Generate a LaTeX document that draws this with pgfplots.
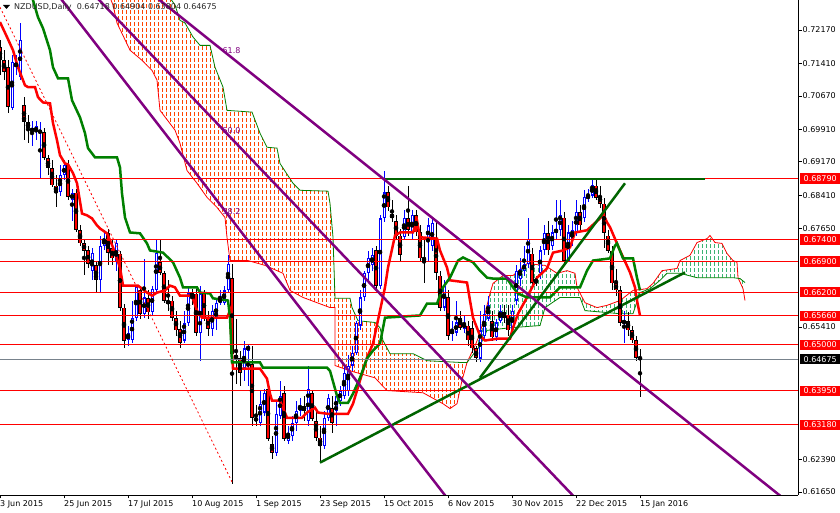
\documentclass[border=0pt]{standalone}
\usepackage{fontspec}
\setmainfont{DejaVu Sans}
\usepackage{pgfplots}
\pgfplotsset{compat=1.18}
\usepackage{pgfplotstable}
\usepgfplotslibrary{fillbetween}

\definecolor{bull}{RGB}{0,0,255}
\definecolor{bear}{RGB}{255,0,0}
\definecolor{kij}{RGB}{0,128,0}
\definecolor{trend}{RGB}{0,100,0}
\definecolor{fib}{RGB}{128,0,128}
\definecolor{kumoR}{RGB}{255,69,0}
\definecolor{kumoG}{RGB}{60,179,113}
\definecolor{cur}{RGB}{120,130,140}

\pgfplotstableread{
i o h l c
0 0.7178 0.7194 0.7114 0.7148
1 0.7148 0.7171 0.7103 0.7121
2 0.7132 0.7148 0.7027 0.7041
3 0.7039 0.7160 0.7034 0.7144
4 0.7132 0.7160 0.7114 0.7144
5 0.7109 0.7233 0.7103 0.7194
6 0.7046 0.7064 0.6966 0.7007
7 0.7007 0.7023 0.6959 0.6993
8 0.6984 0.7011 0.6954 0.6995
9 0.6984 0.7011 0.6966 0.6998
10 0.6982 0.7007 0.6879 0.6989
11 0.6984 0.6993 0.6920 0.6925
12 0.6925 0.6932 0.6886 0.6902
13 0.6902 0.6920 0.6859 0.6863
14 0.6863 0.6886 0.6813 0.6847
15 0.6847 0.6909 0.6840 0.6886
16 0.6886 0.6920 0.6875 0.6909
17 0.6909 0.6920 0.6829 0.6836
18 0.6829 0.6856 0.6783 0.6847
19 0.6847 0.6856 0.6756 0.6761
20 0.6761 0.6772 0.6726 0.6731
21 0.6731 0.6738 0.6658 0.6715
22 0.6715 0.6726 0.6674 0.6685
23 0.6669 0.6720 0.6647 0.6710
24 0.6681 0.6692 0.6619 0.6647
25 0.6647 0.6749 0.6619 0.6726
26 0.6726 0.6761 0.6715 0.6742
27 0.6754 0.6765 0.6681 0.6710
28 0.6720 0.6738 0.6681 0.6697
29 0.6688 0.6742 0.6669 0.6733
30 0.6708 0.6715 0.6578 0.6585
31 0.6585 0.6594 0.6494 0.6510
32 0.6510 0.6544 0.6498 0.6526
33 0.6510 0.6601 0.6505 0.6562
34 0.6562 0.6635 0.6555 0.6633
35 0.6624 0.6635 0.6560 0.6571
36 0.6571 0.6695 0.6562 0.6608
37 0.6606 0.6624 0.6560 0.6574
38 0.6574 0.6635 0.6567 0.6628
39 0.6624 0.6738 0.6619 0.6710
40 0.6688 0.6738 0.6658 0.6663
41 0.6663 0.6669 0.6596 0.6601
42 0.6601 0.6647 0.6578 0.6594
43 0.6601 0.6612 0.6555 0.6562
44 0.6562 0.6578 0.6521 0.6533
45 0.6537 0.6555 0.6494 0.6505
46 0.6510 0.6578 0.6505 0.6549
47 0.6549 0.6635 0.6544 0.6617
48 0.6617 0.6628 0.6590 0.6610
49 0.6617 0.6628 0.6521 0.6528
50 0.6528 0.6635 0.6464 0.6617
51 0.6617 0.6624 0.6555 0.6562
52 0.6562 0.6578 0.6521 0.6537
53 0.6537 0.6590 0.6521 0.6578
54 0.6560 0.6606 0.6533 0.6596
55 0.6596 0.6624 0.6590 0.6606
56 0.6596 0.6635 0.6590 0.6624
57 0.6624 0.6704 0.6619 0.6685
58 0.6653 0.6685 0.6184 0.6480
59 0.6476 0.6560 0.6412 0.6469
60 0.6471 0.6487 0.6407 0.6437
61 0.6448 0.6510 0.6419 0.6492
62 0.6487 0.6503 0.6407 0.6498
63 0.6457 0.6498 0.6316 0.6334
64 0.6334 0.6362 0.6316 0.6327
65 0.6323 0.6396 0.6316 0.6366
66 0.6346 0.6400 0.6339 0.6391
67 0.6400 0.6407 0.6282 0.6286
68 0.6275 0.6293 0.6241 0.6254
69 0.6254 0.6373 0.6248 0.6343
70 0.6339 0.6419 0.6332 0.6384
71 0.6391 0.6407 0.6282 0.6286
72 0.6282 0.6316 0.6275 0.6300
73 0.6293 0.6339 0.6282 0.6323
74 0.6323 0.6373 0.6305 0.6350
75 0.6350 0.6378 0.6339 0.6362
76 0.6362 0.6384 0.6327 0.6350
77 0.6327 0.6453 0.6316 0.6400
78 0.6391 0.6396 0.6327 0.6332
79 0.6327 0.6350 0.6282 0.6289
80 0.6289 0.6316 0.6232 0.6270
81 0.6270 0.6350 0.6264 0.6334
82 0.6334 0.6389 0.6327 0.6380
83 0.6357 0.6384 0.6300 0.6323
84 0.6350 0.6396 0.6316 0.6384
85 0.6373 0.6407 0.6362 0.6396
86 0.6384 0.6453 0.6378 0.6437
87 0.6396 0.6476 0.6384 0.6453
88 0.6453 0.6498 0.6441 0.6482
89 0.6482 0.6555 0.6476 0.6549
90 0.6544 0.6624 0.6533 0.6608
91 0.6608 0.6669 0.6601 0.6663
92 0.6663 0.6715 0.6647 0.6697
93 0.6681 0.6720 0.6669 0.6704
94 0.6715 0.6726 0.6624 0.6635
95 0.6635 0.6795 0.6628 0.6788
96 0.6788 0.6897 0.6779 0.6847
97 0.6847 0.6863 0.6806 0.6813
98 0.6799 0.6829 0.6779 0.6788
99 0.6783 0.6795 0.6738 0.6749
100 0.6749 0.6765 0.6692 0.6704
101 0.6745 0.6806 0.6738 0.6790
102 0.6788 0.6863 0.6749 0.6761
103 0.6756 0.6806 0.6738 0.6795
104 0.6795 0.6806 0.6749 0.6756
105 0.6756 0.6772 0.6688 0.6697
106 0.6699 0.6738 0.6642 0.6692
107 0.6738 0.6788 0.6688 0.6772
108 0.6726 0.6788 0.6715 0.6777
109 0.6742 0.6783 0.6647 0.6663
110 0.6658 0.6669 0.6578 0.6585
111 0.6585 0.6647 0.6578 0.6635
112 0.6608 0.6624 0.6510 0.6521
113 0.6526 0.6555 0.6510 0.6533
114 0.6528 0.6601 0.6521 0.6551
115 0.6562 0.6578 0.6533 0.6539
116 0.6537 0.6567 0.6528 0.6551
117 0.6544 0.6555 0.6498 0.6510
118 0.6539 0.6555 0.6482 0.6492
119 0.6492 0.6498 0.6460 0.6471
120 0.6469 0.6578 0.6460 0.6533
121 0.6521 0.6590 0.6510 0.6571
122 0.6560 0.6612 0.6555 0.6590
123 0.6555 0.6578 0.6510 0.6517
124 0.6517 0.6560 0.6510 0.6551
125 0.6555 0.6590 0.6551 0.6578
126 0.6574 0.6590 0.6551 0.6562
127 0.6567 0.6590 0.6521 0.6533
128 0.6533 0.6590 0.6528 0.6578
129 0.6601 0.6681 0.6590 0.6669
130 0.6651 0.6697 0.6635 0.6674
131 0.6669 0.6726 0.6658 0.6685
132 0.6685 0.6788 0.6674 0.6742
133 0.6708 0.6720 0.6635 0.6642
134 0.6647 0.6658 0.6635 0.6642
135 0.6663 0.6726 0.6651 0.6715
136 0.6715 0.6772 0.6704 0.6754
137 0.6754 0.6783 0.6704 0.6715
138 0.6726 0.6772 0.6715 0.6756
139 0.6754 0.6829 0.6742 0.6765
140 0.6761 0.6829 0.6749 0.6795
141 0.6790 0.6802 0.6681 0.6692
142 0.6692 0.6772 0.6688 0.6756
143 0.6738 0.6783 0.6726 0.6761
144 0.6756 0.6829 0.6749 0.6802
145 0.6802 0.6818 0.6761 0.6772
146 0.6788 0.6852 0.6779 0.6836
147 0.6834 0.6856 0.6825 0.6840
148 0.6840 0.6881 0.6834 0.6863
149 0.6863 0.6875 0.6829 0.6834
150 0.6840 0.6863 0.6811 0.6822
151 0.6822 0.6834 0.6720 0.6754
152 0.6749 0.6761 0.6710 0.6715
153 0.6715 0.6726 0.6624 0.6640
154 0.6640 0.6674 0.6612 0.6624
155 0.6624 0.6635 0.6544 0.6549
156 0.6549 0.6578 0.6505 0.6555
157 0.6555 0.6574 0.6521 0.6533
158 0.6533 0.6544 0.6505 0.6510
159 0.6510 0.6521 0.6464 0.6471
160 0.64718 0.64904 0.63804 0.64675
}\candles

\begin{document}
\begin{tikzpicture}[font=\fontsize{8}{9.6}\selectfont]
\begin{axis}[
  at={(0pt,0pt)}, anchor=south west,
  scale only axis, width=798pt, height=495pt,
  xmin=0, xmax=199.5, ymin=0.61582, ymax=0.72853,
  axis x line=bottom, axis y line=right,
  axis line style={-, black, line width=0.8pt},
  x axis line style={-}, y axis line style={-},
  tick align=outside, major tick length=3.5pt,
  tick style={black, line width=0.6pt},
  scaled y ticks=false, scaled x ticks=false,
  tick label style={font=\fontsize{8}{9.6}\selectfont, black},
  xtick={0,16,32,48,64,80,96,112,128,144,160},
  xticklabels={3 Jun 2015,25 Jun 2015,17 Jul 2015,10 Aug 2015,1 Sep 2015,23 Sep 2015,15 Oct 2015,6 Nov 2015,30 Nov 2015,22 Dec 2015,15 Jan 2016},
  xticklabel style={anchor=north west, inner sep=0pt, yshift=-2pt},
  ytick={0.6165,0.6239,0.6541,0.6765,0.6841,0.6917,0.6991,0.7067,0.7141,0.7217},
  yticklabels={0.61650,0.62390,0.65410,0.67650,0.68410,0.69170,0.69910,0.70670,0.71410,0.72170},
  yticklabel style={anchor=west, inner sep=0pt, xshift=1pt},
]
% --- Ichimoku cloud boundaries (Senkou A / Senkou B)
\addplot[name path=SA, draw=none, forget plot] coordinates {
(26.25,0.7319)(28.25,0.7274)(29.25,0.7233)(32.5,0.7171)(35.5,0.7148)(38,0.7125)(39.25,0.7103)(40,0.7034)(43.75,0.6989)(45,0.6959)(46.75,0.6897)(49.25,0.6868)(51.75,0.6836)(54.25,0.6813)(56.25,0.6790)(56.75,0.6745)(57.5,0.6692)(62,0.6692)(66.25,0.6681)(70.75,0.6663)(72.5,0.6624)(75.75,0.6608)(82.5,0.6585)(83.75,0.6585)(83.76,0.6453)(87.5,0.6441)(93.75,0.6425)(96.75,0.6396)(105.75,0.6391)(110.75,0.6366)(112.5,0.6355)(114.25,0.6366)(115.5,0.6419)(116.75,0.6460)(118.75,0.6498)(120,0.6526)(122.5,0.6617)(123.25,0.6640)(125.75,0.6658)(128.25,0.6658)(131.75,0.6685)(136.25,0.6681)(139.25,0.6663)(141.75,0.6669)(143.75,0.6663)(144.25,0.6631)(146.25,0.6596)(149.25,0.6585)(151.75,0.6590)(155,0.6601)(158.25,0.6624)(161.75,0.6628)(163.25,0.6640)(165.5,0.6669)(169.25,0.6674)(170,0.6692)(172.5,0.6704)(174.25,0.6733)(176.75,0.6742)(177.5,0.6749)(178.75,0.6733)(180.5,0.6731)(181.75,0.6708)(183.25,0.6692)(184.25,0.6688)(184.5,0.6653)(185.75,0.6628)(186.25,0.6601)};
\addplot[name path=SB, draw=none, forget plot] coordinates {
(26.25,0.7422)(37.5,0.7353)(43.75,0.7274)(45,0.7239)(46.25,0.7233)(48.25,0.7201)(50,0.7182)(52.5,0.7182)(53.75,0.7132)(55.75,0.7087)(56.75,0.7034)(63,0.7030)(65,0.6982)(66.75,0.6950)(69.25,0.6948)(70,0.6913)(73.25,0.6868)(75,0.6852)(82,0.6850)(82.5,0.6822)(83.25,0.6745)(83.75,0.6606)(87.5,0.6606)(88,0.6585)(89.5,0.6555)(93.75,0.6551)(95,0.6539)(95.75,0.6510)(97.5,0.6480)(103.25,0.6480)(106.75,0.6464)(115,0.6460)(116.75,0.6460)(120,0.6498)(121.75,0.6533)(127.5,0.6539)(135,0.6544)(136.25,0.6585)(140,0.6608)(145,0.6608)(146.25,0.6578)(155,0.6571)(158.25,0.6571)(160,0.6619)(162.5,0.6628)(165,0.6647)(166.75,0.6663)(170,0.6663)(174.25,0.6653)(183.25,0.6653)(185,0.6651)(186.25,0.6642)};
\addplot[fill=kumoR, draw=none, forget plot] fill between[of=SA and SB, soft clip={domain=26:116.75}];
\addplot[fill=kumoG, draw=none, forget plot] fill between[of=SA and SB, soft clip={domain=116.75:186.25}];
% white grid that leaves the cloud as short vertical dashes
\pgfplotsinvokeforeach{0,...,200}{\draw[white, line width=3pt] (axis cs:#1,0.61582) -- (axis cs:#1,0.72853);}
\pgfplotsinvokeforeach{0,...,83}{\draw[white, line width=2pt] (rel axis cs:0,#1*0.0121212) -- (rel axis cs:1,#1*0.0121212);}
\addplot[bear, line width=0.8pt, forget plot] coordinates {
(26.25,0.7319)(28.25,0.7274)(29.25,0.7233)(32.5,0.7171)(35.5,0.7148)(38,0.7125)(39.25,0.7103)(40,0.7034)(43.75,0.6989)(45,0.6959)(46.75,0.6897)(49.25,0.6868)(51.75,0.6836)(54.25,0.6813)(56.25,0.6790)(56.75,0.6745)(57.5,0.6692)(62,0.6692)(66.25,0.6681)(70.75,0.6663)(72.5,0.6624)(75.75,0.6608)(82.5,0.6585)(83.75,0.6585)(83.76,0.6453)(87.5,0.6441)(93.75,0.6425)(96.75,0.6396)(105.75,0.6391)(110.75,0.6366)(112.5,0.6355)(114.25,0.6366)(115.5,0.6419)(116.75,0.6460)(118.75,0.6498)(120,0.6526)(122.5,0.6617)(123.25,0.6640)(125.75,0.6658)(128.25,0.6658)(131.75,0.6685)(136.25,0.6681)(139.25,0.6663)(141.75,0.6669)(143.75,0.6663)(144.25,0.6631)(146.25,0.6596)(149.25,0.6585)(151.75,0.6590)(155,0.6601)(158.25,0.6624)(161.75,0.6628)(163.25,0.6640)(165.5,0.6669)(169.25,0.6674)(170,0.6692)(172.5,0.6704)(174.25,0.6733)(176.75,0.6742)(177.5,0.6749)(178.75,0.6733)(180.5,0.6731)(181.75,0.6708)(183.25,0.6692)(184.25,0.6688)(184.5,0.6653)(185.75,0.6628)(186.25,0.6601)};
\addplot[kij, line width=0.8pt, forget plot] coordinates {
(26.25,0.7422)(37.5,0.7353)(43.75,0.7274)(45,0.7239)(46.25,0.7233)(48.25,0.7201)(50,0.7182)(52.5,0.7182)(53.75,0.7132)(55.75,0.7087)(56.75,0.7034)(63,0.7030)(65,0.6982)(66.75,0.6950)(69.25,0.6948)(70,0.6913)(73.25,0.6868)(75,0.6852)(82,0.6850)(82.5,0.6822)(83.25,0.6745)(83.75,0.6606)(87.5,0.6606)(88,0.6585)(89.5,0.6555)(93.75,0.6551)(95,0.6539)(95.75,0.6510)(97.5,0.6480)(103.25,0.6480)(106.75,0.6464)(115,0.6460)(116.75,0.6460)(120,0.6498)(121.75,0.6533)(127.5,0.6539)(135,0.6544)(136.25,0.6585)(140,0.6608)(145,0.6608)(146.25,0.6578)(155,0.6571)(158.25,0.6571)(160,0.6619)(162.5,0.6628)(165,0.6647)(166.75,0.6663)(170,0.6663)(174.25,0.6653)(183.25,0.6653)(185,0.6651)(186.25,0.6642)};

% --- candles: wicks
\addplot[only marks, mark=none, forget plot, restrict x to domain=-5:300,
  error bars/.cd, y dir=both, y explicit, error mark=none,
  error bar style={draw=bull, line width=1pt}]
  table[x expr={\thisrow{c}>\thisrow{o} ? \thisrow{i} : -50},
        y expr={(\thisrow{h}+\thisrow{l})/2},
        y error expr={(\thisrow{h}-\thisrow{l})/2}] {\candles};
\addplot[only marks, mark=none, forget plot, restrict x to domain=-5:300,
  error bars/.cd, y dir=both, y explicit, error mark=none,
  error bar style={draw=black, line width=1pt}]
  table[x expr={\thisrow{c}>\thisrow{o} ? -50 : \thisrow{i}},
        y expr={(\thisrow{h}+\thisrow{l})/2},
        y error expr={(\thisrow{h}-\thisrow{l})/2}] {\candles};
% bodies: bullish (blue outline, white inside)
\addplot[only marks, mark=none, forget plot, restrict x to domain=-5:300,
  error bars/.cd, y dir=both, y explicit, error mark=none,
  error bar style={draw=bull, line width=3pt}]
  table[x expr={\thisrow{c}>\thisrow{o} ? \thisrow{i} : -50},
        y expr={(\thisrow{o}+\thisrow{c})/2},
        y error expr={max(abs(\thisrow{c}-\thisrow{o})/2,0.00012)}] {\candles};
\addplot[only marks, mark=none, forget plot, restrict x to domain=-5:300,
  error bars/.cd, y dir=both, y explicit, error mark=none,
  error bar style={draw=white, line width=1pt}]
  table[x expr={\thisrow{c}>\thisrow{o} ? \thisrow{i} : -50},
        y expr={(\thisrow{o}+\thisrow{c})/2},
        y error expr={max(abs(\thisrow{c}-\thisrow{o})/2-0.00025,0)}] {\candles};
% bodies: bearish (black outline, red inside)
\addplot[only marks, mark=none, forget plot, restrict x to domain=-5:300,
  error bars/.cd, y dir=both, y explicit, error mark=none,
  error bar style={draw=black, line width=3.2pt}]
  table[x expr={\thisrow{c}>\thisrow{o} ? -50 : \thisrow{i}},
        y expr={(\thisrow{o}+\thisrow{c})/2},
        y error expr={max(abs(\thisrow{c}-\thisrow{o})/2,0.00012)}] {\candles};
\addplot[only marks, mark=none, forget plot, restrict x to domain=-5:300,
  error bars/.cd, y dir=both, y explicit, error mark=none,
  error bar style={draw=bear, line width=1.8pt}]
  table[x expr={\thisrow{c}>\thisrow{o} ? -50 : \thisrow{i}},
        y expr={(\thisrow{o}+\thisrow{c})/2},
        y error expr={max(abs(\thisrow{c}-\thisrow{o})/2-0.0002,0)}] {\candles};

% --- Tenkan-sen
\addplot[bear, line width=2.5pt, forget plot] coordinates {
(0,0.7235)(1.75,0.7201)(3.25,0.7171)(4.5,0.7132)(6.25,0.7091)(7,0.7087)(8.75,0.7087)(9.5,0.7064)(10.75,0.7052)(12.5,0.7050)(13.25,0.7005)(14.25,0.6966)(15,0.6932)(16.25,0.6913)(17,0.6911)(18.25,0.6891)(19.25,0.6868)(20.5,0.6799)(21.75,0.6795)(23,0.6788)(24.25,0.6772)(25,0.6765)(26.75,0.6754)(28.25,0.6722)(30,0.6676)(30.75,0.6635)(34.5,0.6635)(36.75,0.6619)(38,0.6612)(39.25,0.6619)(41.25,0.6624)(42.5,0.6635)(43.75,0.6631)(45,0.6612)(48,0.6612)(49.25,0.6578)(50.5,0.6562)(56.75,0.6562)(57.5,0.6578)(58,0.6482)(58.25,0.6446)(65,0.6446)(66.75,0.6423)(67.5,0.6389)(68,0.6373)(70,0.6373)(71.75,0.6334)(75.5,0.6334)(76.75,0.6346)(78.75,0.6357)(79.5,0.6346)(82,0.6343)(87,0.6343)(88.25,0.6366)(90,0.6419)(91.75,0.6471)(93.25,0.6503)(95,0.6578)(96.25,0.6631)(97,0.6676)(98.75,0.6749)(100,0.6756)(103.25,0.6756)(104.25,0.6783)(105,0.6745)(109.25,0.6742)(110,0.6715)(111.75,0.6676)(112.5,0.6647)(116.75,0.6642)(117.5,0.6601)(118.25,0.6562)(120,0.6521)(121.25,0.6510)(124.25,0.6514)(127.5,0.6514)(128.25,0.6539)(129.5,0.6571)(131.75,0.6608)(134.25,0.6653)(136.75,0.6674)(138.25,0.6710)(140.75,0.6715)(142.5,0.6722)(143.75,0.6756)(146.75,0.6761)(150,0.6788)(150.75,0.6799)(151.75,0.6779)(152.5,0.6768)(155,0.6715)(157.5,0.6665)(158.75,0.6631)(159.25,0.6601)(160,0.6567)};
% --- Kijun-sen
\addplot[kij, line width=2.5pt, forget plot] coordinates {
(7,0.7308)(8.25,0.7285)(9.5,0.7246)(10.75,0.7221)(12.5,0.7171)(13.25,0.7132)(14.5,0.7107)(17,0.7107)(18,0.7057)(20,0.7018)(21.25,0.6982)(22,0.6948)(23.75,0.6927)(29.25,0.6927)(30,0.6904)(30.5,0.6845)(31.25,0.6790)(32.5,0.6756)(35,0.6754)(36.75,0.6731)(37.5,0.6715)(40.75,0.6710)(43.25,0.6688)(45,0.6653)(45.75,0.6631)(49.25,0.6631)(50,0.6619)(52.5,0.6617)(53.25,0.6606)(57,0.6601)(57.5,0.6562)(58,0.6460)(65,0.6460)(65.75,0.6448)(81.75,0.6448)(82.5,0.6441)(84.25,0.6384)(85,0.6368)(87,0.6368)(88.25,0.6389)(90,0.6425)(91.75,0.6469)(93.25,0.6487)(95,0.6503)(96.25,0.6562)(105,0.6567)(106.75,0.6594)(109.25,0.6594)(110.75,0.6631)(112.5,0.6653)(114.5,0.6692)(115.75,0.6699)(118.25,0.6688)(120,0.6669)(121.75,0.6653)(123.25,0.6651)(126.75,0.6651)(128.25,0.6631)(129.5,0.6617)(131.75,0.6608)(137.5,0.6608)(139.25,0.6624)(140,0.6631)(145,0.6631)(146.75,0.6669)(148.25,0.6692)(152.5,0.6697)(153.75,0.6726)(154.25,0.6731)(155.75,0.6697)(158.25,0.6697)(159.25,0.6653)(160,0.6624)};

% --- horizontal levels
\addplot[bear, line width=1pt, forget plot] coordinates {(0,0.6879)(199.5,0.6879)};
\addplot[bear, line width=1pt, forget plot] coordinates {(0,0.6740)(199.5,0.6740)};
\addplot[bear, line width=1pt, forget plot] coordinates {(0,0.6690)(199.5,0.6690)};
\addplot[bear, line width=1pt, forget plot] coordinates {(0,0.6620)(199.5,0.6620)};
\addplot[bear, line width=1pt, forget plot] coordinates {(0,0.6566)(199.5,0.6566)};
\addplot[bear, line width=1pt, forget plot] coordinates {(0,0.6500)(199.5,0.6500)};
\addplot[bear, line width=1pt, forget plot] coordinates {(0,0.6395)(199.5,0.6395)};
\addplot[bear, line width=1pt, forget plot] coordinates {(0,0.6318)(199.5,0.6318)};
\addplot[cur, line width=1pt, forget plot] coordinates {(0,0.64675)(199.5,0.64675)};

% --- trend lines
\addplot[trend, line width=2.5pt, forget plot] coordinates {(96.25,0.6878)(176.25,0.6878)};
\addplot[trend, line width=2.5pt, forget plot] coordinates {(80,0.6232)(171.25,0.6665)};
\addplot[trend, line width=2.5pt, forget plot] coordinates {(120,0.6425)(156.25,0.6868)};
% --- Fibonacci fan
\addplot[fib, line width=2.5pt, forget plot] coordinates {(11.575,0.7331)(114.1,0.6124)};
\addplot[fib, line width=2.5pt, forget plot] coordinates {(19.98,0.7331)(146.7,0.6124)};
\addplot[fib, line width=2.5pt, forget plot] coordinates {(33.6,0.7331)(199.5,0.6124)};
% --- dashed trend
\addplot[bear, line width=0.8pt, dash pattern=on 2pt off 2.5pt, forget plot] coordinates {(0,0.7269)(58,0.6188)};

\node[fib, anchor=west, inner sep=0pt] at (axis cs:55.6,0.7169) {61.8};
\node[fib, anchor=west, inner sep=0pt] at (axis cs:55.6,0.6989) {50.0};
\node[fib, anchor=west, inner sep=0pt] at (axis cs:55.6,0.6803) {38.2};

\coordinate (q1) at (axis cs:199.5,0.6879);
\coordinate (q2) at (axis cs:199.5,0.6740);
\coordinate (q3) at (axis cs:199.5,0.6690);
\coordinate (q4) at (axis cs:199.5,0.6620);
\coordinate (q5) at (axis cs:199.5,0.6566);
\coordinate (q6) at (axis cs:199.5,0.6500);
\coordinate (q7) at (axis cs:199.5,0.6395);
\coordinate (q8) at (axis cs:199.5,0.6318);
\coordinate (q9) at (axis cs:199.5,0.64675);
\end{axis}
\tikzset{lbl/.style={fill=red, text=white, anchor=west, inner xsep=2.5pt, inner ysep=0pt, minimum height=10.5pt, minimum width=40pt, font=\fontsize{8}{9.6}\selectfont}}
\node[lbl] at ([xshift=2pt]q1) {0.68790};
\node[lbl] at ([xshift=2pt]q2) {0.67400};
\node[lbl] at ([xshift=2pt]q3) {0.66900};
\node[lbl] at ([xshift=2pt]q4) {0.66200};
\node[lbl] at ([xshift=2pt]q5) {0.65660};
\node[lbl] at ([xshift=2pt]q6) {0.65000};
\node[lbl] at ([xshift=2pt]q7) {0.63950};
\node[lbl] at ([xshift=2pt]q8) {0.63180};
\node[lbl, fill=black] at ([xshift=2pt]q9) {0.64675};
\fill[black] (3pt,490pt) -- (10pt,490pt) -- (6.5pt,486pt) -- cycle;
\node[anchor=west, inner sep=0pt, text=black!85] at (14pt,487.5pt) {NZDUSD,Daily\ \ 0.64718 0.64904 0.63804 0.64675};
\pgfresetboundingbox
\path (0pt,-18pt) rectangle (840pt,495pt);
\end{tikzpicture}
\end{document}
